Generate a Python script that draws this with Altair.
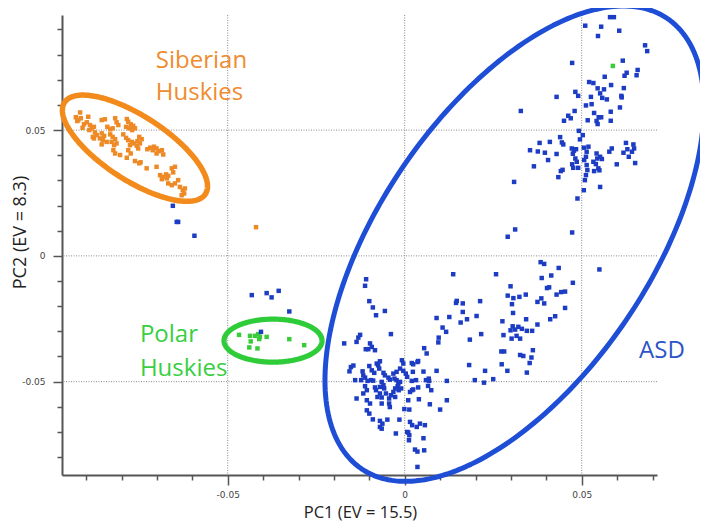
import altair as alt
import numpy as np
import pandas as pd

# All PC values below are in thousandths (divide by 1000 for PC units)
# Siberian Huskies (orange), [PC1, PC2]
sib_pts = [
    [-91.7, 57.0], [-92.9, 55.1], [-92.2, 54.0], [-91.5, 54.7], [-92.5, 53.6],
    [-89.4, 55.3], [-89.8, 53.1], [-90.6, 52.3], [-91.0, 50.9],
    [-88.9, 52.0], [-88.4, 50.7], [-87.8, 51.3], [-89.1, 50.0],
    [-85.6, 54.0], [-84.7, 54.3],
    [-81.8, 54.7], [-81.4, 53.1], [-80.9, 52.0],
    [-78.5, 54.4], [-78.1, 53.3], [-77.4, 52.3], [-76.7, 51.7], [-78.7, 51.3], [-77.8, 50.7], [-77.0, 50.0], [-76.2, 50.7],
    [-84.0, 51.3], [-83.2, 50.3], [-82.5, 50.7],
    [-87.5, 49.1], [-87.0, 48.0], [-87.8, 46.7], [-88.1, 47.3],
    [-85.6, 48.7], [-84.9, 47.7], [-86.1, 46.7], [-85.3, 46.0], [-84.2, 45.3], [-85.6, 44.3],
    [-83.2, 48.3], [-82.5, 47.3], [-81.8, 46.4], [-82.8, 45.3], [-82.1, 44.0], [-81.4, 44.7],
    [-79.5, 48.3], [-78.7, 46.9], [-78.1, 46.0], [-77.1, 45.3], [-77.6, 44.0], [-76.5, 44.7], [-75.7, 43.8], [-75.3, 42.7],
    [-75.0, 47.3], [-74.3, 46.4], [-75.5, 45.6], [-74.8, 44.7],
    [-82.3, 42.0], [-81.8, 40.7], [-80.4, 40.1],
    [-78.1, 42.0], [-77.4, 40.7], [-78.5, 39.0],
    [-76.2, 37.7], [-75.0, 36.8], [-74.6, 37.2],
    [-72.7, 42.4], [-71.9, 43.0], [-71.2, 42.0], [-70.8, 43.4], [-70.1, 42.7], [-69.5, 41.6], [-70.1, 40.7], [-68.2, 40.3], [-68.6, 42.0],
    [-72.9, 34.8], [-70.1, 35.4],
    [-69.1, 32.1], [-68.2, 31.4], [-67.4, 32.4], [-66.8, 31.8], [-67.2, 30.8], [-68.6, 30.5],
    [-65.8, 34.8], [-65.4, 33.2], [-64.9, 35.4],
    [-66.8, 28.8], [-65.8, 28.1], [-64.9, 28.8], [-64.0, 30.1],
    [-63.5, 27.4], [-62.7, 26.1], [-62.1, 26.8], [-62.3, 24.8], [-63.0, 24.1],
    [-42.0, 11.4],
]

# Polar Huskies (green)
polar_pts = [
    [-46.8, -31.4], [-43.7, -31.8], [-43.5, -34.0], [-43.9, -36.4], [-42.3, -31.8],
    [-41.4, -31.1], [-41.1, -33.1], [-40.9, -32.2], [-41.6, -36.8], [-39.0, -32.2],
    [-32.6, -33.1], [-28.4, -35.5], [58.8, 75.5],
]

# other blue samples outside the ASD ellipse
other_pts = [
    [-65.5, 19.9], [-64.4, 13.5], [-64.0, 13.5], [-59.4, 8.0],
    [-43.2, -15.6], [-39.0, -14.8], [-37.6, -16.5], [-35.6, -13.9], [-32.6, -22.1], [-40.6, -30.2],
]

# ASD (blue) - upper arm
asd_top = [
    [58.0, 94.9], [59.1, 94.9], [51.0, 91.5], [55.5, 91.1], [60.6, 89.5], [54.6, 87.4], [67.9, 83.7], [68.5, 81.4], [47.3, 76.7], [61.6, 77.6],
    [65.8, 73.9], [65.5, 71.8], [62.7, 72.8], [62.1, 71.6], [56.5, 71.2], [52.1, 69.1], [53.3, 68.7], [58.3, 67.9], [54.5, 66.6], [56.3, 66.2],
    [61.9, 66.7], [48.2, 65.2], [49.0, 63.6], [55.2, 64.6], [55.8, 62.8], [57.1, 62.2], [52.6, 63.2], [61.2, 63.6], [61.3, 63.0], [42.9, 63.2],
    [52.8, 60.3], [51.2, 59.8], [60.8, 59.0], [32.8, 57.6], [48.0, 57.6], [53.5, 56.8], [54.8, 55.1], [55.5, 55.1], [54.2, 53.6], [54.5, 52.4],
    [58.2, 57.3], [46.2, 55.7], [46.9, 54.7], [45.0, 53.7], [51.7, 53.9], [58.2, 53.7], [49.2, 49.7], [50.3, 48.0], [49.5, 46.3], [43.9, 47.2],
    [44.4, 45.1], [44.8, 44.3], [41.0, 45.3], [38.1, 44.9], [35.4, 42.0], [37.6, 41.5], [39.6, 41.0], [42.9, 40.5], [40.5, 38.1], [36.5, 35.6],
    [43.4, 31.3], [44.6, 34.2], [44.1, 33.7], [47.2, 42.7], [47.8, 41.8], [48.4, 42.4], [47.5, 40.6], [48.2, 38.7], [48.6, 37.4], [47.3, 36.4],
    [47.6, 35.0], [49.0, 35.0], [50.6, 43.0], [51.9, 43.4], [51.4, 41.4], [51.2, 39.4], [50.7, 38.1], [51.4, 36.1], [51.6, 34.1], [51.2, 32.1],
    [50.9, 30.1], [54.2, 40.7], [54.4, 38.7], [55.2, 39.4], [55.7, 38.5], [53.3, 37.4], [54.0, 36.5], [54.7, 34.8], [53.5, 33.7], [55.0, 34.0],
    [57.8, 41.4], [58.5, 42.7], [62.5, 44.9], [64.6, 44.3], [64.8, 42.7], [64.2, 41.4], [62.9, 42.4], [61.8, 41.0], [63.3, 39.4], [65.1, 36.9],
    [59.9, 36.4], [30.9, 29.4],
]

# ASD - middle band
asd_mid = [
    [31.2, 10.5], [29.1, 7.6], [47.3, 9.3], [48.8, 22.8], [50.6, 26.1], [55.2, 27.4], [38.4, -2.5], [55.0, -5.4], [39.4, -3.2], [43.5, -4.8],
    [13.7, -7.3], [25.8, -7.3], [38.7, -8.8], [41.4, -7.8], [47.5, -10.7], [29.9, -12.1], [40.2, -12.8], [40.8, -12.5], [29.1, -15.8], [30.7, -16.8],
    [32.4, -16.3], [34.2, -15.4], [42.9, -15.4], [44.2, -14.4], [45.3, -14.2], [30.3, -19.2], [37.5, -18.3], [38.6, -16.9], [39.4, -18.9], [14.5, -18.7],
    [14.7, -17.9], [16.4, -18.9], [21.3, -18.0], [45.3, -20.7], [16.4, -22.3], [30.6, -22.7], [9.0, -24.7], [12.6, -24.3], [17.6, -25.2], [20.3, -23.9],
    [15.8, -26.5], [34.3, -25.2], [27.6, -26.0], [42.5, -24.0], [41.1, -25.2], [37.5, -27.3], [10.7, -28.5], [11.7, -30.2], [30.5, -28.0], [32.1, -28.2],
    [31.2, -29.3], [29.9, -29.6], [33.1, -29.0], [34.5, -29.8], [36.0, -29.8], [21.6, -31.1], [27.9, -31.5], [31.6, -31.8], [32.6, -32.9], [30.2, -32.9],
    [18.4, -33.3], [-10.9, -9.3], [-11.2, -11.9], [-10.0, -18.0], [-9.0, -20.5], [-8.1, -23.6], [-5.6, -21.9], [-3.9, -31.1], [5.5, -36.7], [6.2, -38.8],
    [9.5, -34.4], [9.6, -32.5], [27.3, -38.0], [28.1, -38.0], [32.6, -39.4], [33.5, -39.8], [36.2, -37.5], [35.8, -40.4], [35.3, -42.6], [27.4, -43.1],
    [29.0, -45.7], [34.5, -46.4], [18.2, -43.4], [22.7, -45.7], [19.8, -49.4], [22.4, -50.4], [25.0, -49.0], [11.9, -49.7], [9.0, -45.7], [5.3, -46.0],
    [6.9, -49.7], [6.6, -51.7], [7.5, -53.4], [2.1, -53.4], [3.6, -77.8], [5.5, -77.3], [3.6, -83.9], [1.0, -70.2], [1.2, -73.3], [5.3, -72.5],
]

# ASD - dense lower cluster
asd_dense = [
    [-12.6, -31.4], [-13.1, -32.5], [-13.6, -34.2], [-17.1, -34.8], [-9.8, -34.8], [-9.3, -36.2], [-10.3, -37.1], [-11.0, -37.1], [-8.4, -37.5], [-7.0, -41.9],
    [-7.5, -43.5], [-7.2, -44.8], [-7.9, -42.8], [-10.0, -43.8], [-9.3, -45.5], [-8.6, -46.5], [-14.5, -43.6], [-15.2, -44.2], [-15.6, -45.9], [-11.9, -45.9],
    [-14.0, -49.4], [-12.3, -49.4], [-10.5, -49.7], [-9.5, -49.4], [-8.9, -49.6], [-11.7, -47.5], [-11.2, -48.4], [-6.0, -46.5], [-5.6, -47.5], [-4.6, -48.4],
    [-4.2, -49.2], [-3.2, -46.8], [-2.3, -46.1], [-1.3, -44.8], [-0.8, -41.5], [-0.4, -42.8], [-2.9, -48.8], [-2.3, -49.4], [-1.8, -50.8], [-1.3, -50.1],
    [-2.0, -51.8], [-2.7, -52.7], [-1.7, -53.4], [-1.0, -52.7], [-3.2, -54.1], [-3.9, -55.4], [-4.4, -56.7], [-2.7, -56.1], [-6.5, -50.1], [-6.0, -51.4],
    [-7.0, -52.1], [-5.8, -52.7], [-7.0, -54.7], [-7.7, -56.1], [-6.5, -56.3], [-5.3, -54.7], [-11.2, -51.8], [-10.7, -53.4], [-11.7, -54.7], [-10.7, -57.4],
    [-9.8, -58.7], [-8.4, -52.3], [-8.1, -53.4], [-13.6, -56.7], [-6.5, -58.7], [-4.4, -58.7], [-4.2, -60.1], [-10.7, -61.4], [-10.0, -62.7], [-9.0, -65.0],
    [-7.0, -65.6], [-6.3, -66.7], [-7.0, -68.0], [-6.5, -68.7], [-4.9, -65.1], [-2.5, -70.6], [-1.5, -65.1], [-0.1, -60.9], [1.3, -61.1], [1.0, -57.4],
    [1.5, -54.1], [2.4, -53.1], [3.8, -52.3], [2.0, -49.7], [3.2, -49.4], [0.7, -48.1], [0.3, -46.8], [-0.4, -45.7], [2.0, -42.6], [2.4, -43.1],
    [3.6, -42.2], [3.8, -41.8], [2.3, -46.1], [6.0, -49.4], [6.8, -48.8], [4.0, -57.0], [7.1, -59.0], [10.0, -61.1], [11.9, -57.4], [1.5, -66.0],
    [2.1, -67.3], [3.4, -68.0], [4.3, -66.7], [5.7, -67.3], [0.7, -70.0], [1.3, -71.3], [2.9, -77.0],
]

# group ellipses: centre and two conjugate half-axes (thousandths)
ell_names = ["Siberian", "Polar", "ASD"]
ell_center = [[-76.2, 42.8], [-37.2, -33.7], [31.0, 4.85]]
ell_u = [[19.9, -18.2], [13.84, 0.0], [43.2, 89.5]]
ell_v = [[-4.92, -10.7], [0.0, 8.55], [31.6, -30.3]]

# annotation labels
lab_text = ["Siberian", "Huskies", "Polar", "Huskies", "ASD"]
lab_group = ["Siberian", "Siberian", "Polar", "Polar", "ASD"]
lab_x = [-70.3, -70.3, -74.8, -74.8, 66.2]
lab_y = [74.7, 61.9, -34.3, -47.9, -40.7]

# axis ticks and major grid lines
x_ticks = [-0.09, -0.08, -0.07, -0.06, -0.05, -0.04, -0.03, -0.02, -0.01, 0.0,
           0.01, 0.02, 0.03, 0.04, 0.05, 0.06, 0.07]
y_ticks = [-0.08, -0.07, -0.06, -0.05, -0.04, -0.03, -0.02, -0.01, 0.0,
           0.01, 0.02, 0.03, 0.04, 0.05, 0.06, 0.07, 0.08, 0.09]
grid_x = [-0.05, 0.0, 0.05]
grid_y = [-0.05, 0.0, 0.05]
x_domain = [-0.09681, 0.07127]
y_domain = [-0.08711, 0.09575]

# ---- build tables ----
rows = []
for name, pts in [("Siberian", sib_pts), ("Polar", polar_pts), ("ASD", other_pts),
                  ("ASD", asd_top), ("ASD", asd_mid), ("ASD", asd_dense)]:
    for px, py in pts:
        rows.append({"pc1": px / 1000, "pc2": py / 1000, "group": name})
pts_df = pd.DataFrame(rows)

t = np.linspace(0, 2 * np.pi, 241)
erows = []
for name, c, u, v in zip(ell_names, ell_center, ell_u, ell_v):
    for i, tt in enumerate(t):
        erows.append({
            "pc1": (c[0] + u[0] * np.cos(tt) + v[0] * np.sin(tt)) / 1000,
            "pc2": (c[1] + u[1] * np.cos(tt) + v[1] * np.sin(tt)) / 1000,
            "group": name, "i": i,
        })
ell_df = pd.DataFrame(erows)

lab_df = pd.DataFrame({"text": lab_text, "group": lab_group,
                       "pc1": [v / 1000 for v in lab_x], "pc2": [v / 1000 for v in lab_y]})

major = "(abs(datum.value) < 0.0001 || abs(abs(datum.value) - 0.05) < 0.0001)"
label_expr = (major + " ? ((datum.value < -0.0001 ? '-' : '') + format(abs(datum.value), '.2~f')) : ''")

x_axis = alt.Axis(
    values=x_ticks, title="PC1 (EV = 15.5)", labelExpr=label_expr, labelOverlap=False,
    labelFlush=False, grid=False,
    tickSize={"condition": {"test": major, "value": 10}, "value": 5},
    labelPadding=5, titleX=298, titleY=42, titleAlign="center", titleBaseline="alphabetic",
    titleFontSize=16.5,
)
y_axis = alt.Axis(
    values=y_ticks, title="PC2 (EV = 8.3)", labelExpr=label_expr, labelOverlap=False,
    labelFlush=False, grid=False,
    tickSize={"condition": {"test": major, "value": 9}, "value": 5},
    labelPadding=8, titleX=-37, titleY=217, titleAlign="center", titleBaseline="alphabetic",
    titleAngle=270, titleFontSize=18,
)

xs = alt.Scale(domain=x_domain, nice=False, zero=False)
ys = alt.Scale(domain=y_domain, nice=False, zero=False)

X = alt.X("pc1:Q", scale=xs, axis=x_axis)
Y = alt.Y("pc2:Q", scale=ys, axis=y_axis)

grid_style = dict(color="#8a8a8a", strokeWidth=1, strokeDash=[1, 1.5])
vgrid = alt.Chart(pd.DataFrame({"pc1": grid_x})).mark_rule(**grid_style).encode(x=X)
hgrid = alt.Chart(pd.DataFrame({"pc2": grid_y})).mark_rule(**grid_style).encode(y=Y)

points = alt.Chart(pts_df).mark_square(size=20, opacity=1).encode(
    x=X, y=Y,
    color=alt.Color("group:N", scale=alt.Scale(domain=ell_names, range=["#ee8a26", "#3acb3a", "#1d3cc4"]), legend=None),
)

ellipses = alt.Chart(ell_df).mark_line(strokeCap="round", strokeJoin="round").encode(
    x=X, y=Y, order="i:Q", detail="group:N",
    color=alt.Color("group:N", scale=alt.Scale(domain=ell_names, range=["#f28a1c", "#2fcc3a", "#1e4dd6"]), legend=None),
    strokeWidth=alt.StrokeWidth("group:N", scale=alt.Scale(domain=ell_names, range=[5.5, 5.0, 6.0]), legend=None),
)

labels = alt.Chart(lab_df).mark_text(font="Open Sans", fontSize=24, align="left", baseline="alphabetic").encode(
    x=X, y=Y, text="text:N",
    color=alt.Color("group:N", scale=alt.Scale(domain=ell_names, range=["#ef8c30", "#38cf42", "#2c54c6"]), legend=None),
)

chart = alt.layer(vgrid, hgrid, points, ellipses, labels).resolve_scale(
    color="independent", strokeWidth="independent"
).properties(
    width=595, height=460,
    autosize=alt.AutoSizeParams(type="none"),
    padding={"left": 54, "top": 7, "right": 43, "bottom": 46},
).configure_view(stroke=None).configure_axis(
    labelFont="DejaVu Sans", labelFontSize=9, labelColor="#444", labelOverlap=False,
    titleFont="Open Sans", titleFontWeight="normal", titleColor="#222",
    domainColor="#555", domainWidth=2, tickColor="#555", tickWidth=1.5,
)

chart.save("out.html", embed_options={"renderer": "svg", "actions": False})
